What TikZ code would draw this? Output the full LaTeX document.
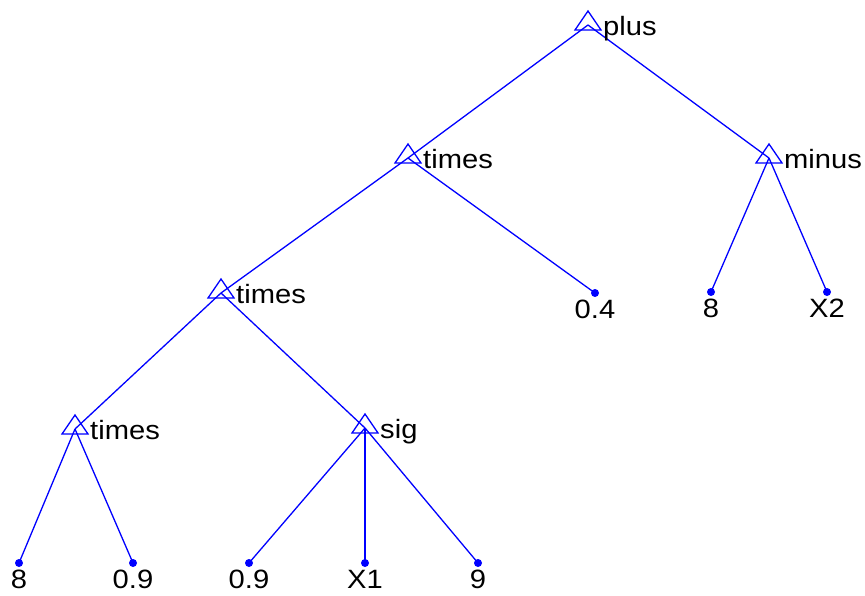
\documentclass[tikz,border=0pt]{standalone}
\usepackage{fontspec}
\setmainfont{Liberation Sans}[FakeStretch=1.1]
\begin{document}
\begin{tikzpicture}[x=1pt,y=-1pt,
  edge/.style={draw=blue, line width=1.3pt},
  tri/.pic={\draw[blue, line width=1.3pt, line join=miter] (0,-14) -- (-13,5) -- (13,5) -- cycle;},
  leaf/.style={circle, fill=blue, inner sep=0pt, minimum size=8pt},
  lab/.style={inner sep=0pt, font=\fontsize{26.5}{30}\selectfont, text=black},
  ilab/.style={lab, anchor=base west},
  llab/.style={lab, anchor=base}]
\useasboundingbox (0,0) rectangle (865,596);
% internal nodes
\coordinate (plus) at (588,25);
\coordinate (timesA) at (408,158);
\coordinate (minus) at (769,158);
\coordinate (timesB) at (221,293);
\coordinate (timesC) at (75,429);
\coordinate (sig) at (365,428);
% leaves
\node[leaf] (l04) at (595,293) {};
\node[leaf] (l8a) at (711,292) {};
\node[leaf] (lx2) at (827,292) {};
\node[leaf] (l8b) at (19,563) {};
\node[leaf] (l09a) at (133,563) {};
\node[leaf] (l09b) at (249,563) {};
\node[leaf] (lx1) at (365,563) {};
\node[leaf] (l9) at (478,563) {};
% edges
\draw[edge] (plus) -- (timesA);
\draw[edge] (plus) -- (minus);
\draw[edge] (timesA) -- (timesB);
\draw[edge] (timesA) -- (l04.center);
\draw[edge] (minus) -- (l8a.center);
\draw[edge] (minus) -- (lx2.center);
\draw[edge] (timesB) -- (timesC);
\draw[edge] (timesB) -- (sig);
\draw[edge] (timesC) -- (l8b.center);
\draw[edge] (timesC) -- (l09a.center);
\draw[edge] (sig) -- (l09b.center);
\draw[edge] (sig) -- (lx1.center);
\draw[edge] (sig) -- (l9.center);
% triangles
\pic at (plus) {tri};
\pic at (timesA) {tri};
\pic at (minus) {tri};
\pic at (timesB) {tri};
\pic at (timesC) {tri};
\pic at (sig) {tri};
% internal labels
\node[ilab] (plusT) at ([xshift=15pt,yshift=-10.5pt]plus) {plus};
\node[ilab] (timesAT) at ([xshift=15pt,yshift=-10.5pt]timesA) {times};
\node[ilab] (minusT) at ([xshift=15pt,yshift=-10.5pt]minus) {minus};
\node[ilab] (timesBT) at ([xshift=15pt,yshift=-10.5pt]timesB) {times};
\node[ilab] (timesCT) at ([xshift=15pt,yshift=-10.5pt]timesC) {times};
\node[ilab] (sigT) at ([xshift=15pt,yshift=-10.5pt]sig) {sig};
% leaf labels
\node[llab] (l04T) at ([yshift=-25.5pt]l04.center) {0.4};
\node[llab] (l8aT) at ([yshift=-25.5pt]l8a.center) {8};
\node[llab] (lx2T) at ([yshift=-25.5pt]lx2.center) {X2};
\node[llab] (l8bT) at ([yshift=-25.5pt]l8b.center) {8};
\node[llab] (l09aT) at ([yshift=-25.5pt]l09a.center) {0.9};
\node[llab] (l09bT) at ([yshift=-25.5pt]l09b.center) {0.9};
\node[llab] (lx1T) at ([yshift=-25.5pt]lx1.center) {X1};
\node[llab] (l9T) at ([yshift=-25.5pt]l9.center) {9};
\end{tikzpicture}
\end{document}
